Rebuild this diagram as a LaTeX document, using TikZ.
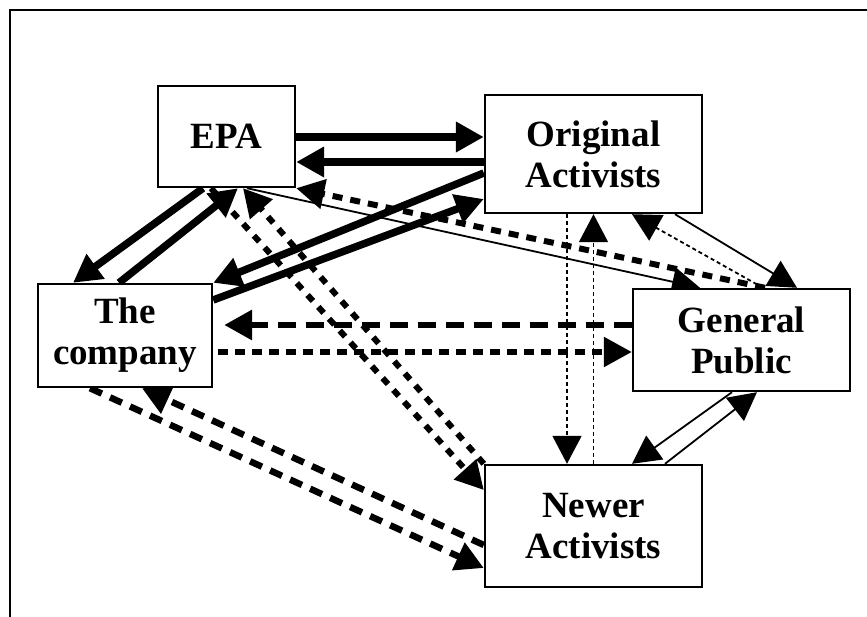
\documentclass[tikz,border=0pt]{standalone}
\usepackage{fontspec}
\setmainfont{Liberation Serif}
\usetikzlibrary{arrows.meta,backgrounds}
\tikzset{
  box/.style={draw,fill=white,line width=2.4pt,inner sep=0pt,align=center,
    font=\bfseries\fontsize{37}{41}\selectfont},
  tip/.style={-{Triangle[length=28pt,width=29pt]}},
  thicksolid/.style={tip,line width=7.5pt},
  thinsolid/.style={tip,line width=1.8pt},
  thindot/.style={tip,line width=1.8pt,dash pattern=on 4pt off 3pt},
  longdash/.style={tip,line width=6.5pt,dash pattern=on 18pt off 10pt},
  meddash/.style={tip,line width=6pt,dash pattern=on 10pt off 8pt},
  shortdash/.style={tip,line width=5.5pt,dash pattern=on 10pt off 7pt},
  diagdash/.style={tip,line width=6pt,dash pattern=on 8pt off 8pt},
  lowdash/.style={tip,line width=6.5pt,dash pattern=on 13pt off 9pt},
}
\begin{document}
\begin{tikzpicture}[x=1pt,y=-1pt]
\useasboundingbox (0,0) rectangle (867,617);
\draw[line width=2.4pt] (867,10) -- (10,10) -- (10,617);

\node[box,minimum width=137pt,minimum height=101pt] (epa) at (226.5,136.5) {EPA};
\node[box,minimum width=217pt,minimum height=118pt] (oa) at (593.5,154) {Original\\Activists};
\node[box,minimum width=174pt,minimum height=103pt] (co) at (125,335.5) {The\\company};
\node[box,minimum width=217pt,minimum height=102pt] (gp) at (741.5,340) {General\\Public};
\node[box,minimum width=217pt,minimum height=122pt] (na) at (593.5,526) {Newer\\Activists};

\begin{scope}[on background layer]
% EPA <-> Original Activists
\draw[thicksolid] ([yshift=-0.5pt]epa.east) -- ([yshift=-0.5pt]epa.east -| oa.west);
\draw[thicksolid] ([yshift=-8pt]oa.west) -- ([yshift=-8pt]oa.west -| epa.east);
% General Public -> EPA, EPA -> General Public
\draw[meddash] ([xshift=23.5pt]gp.north) -- (epa.south east);
\draw[thinsolid] ([xshift=20.5pt]epa.south) -- ([xshift=-41.5pt]gp.north);
% Original Activists <-> company
\draw[thicksolid] ([yshift=-19pt]oa.west) -- (co.north east);
\draw[thicksolid] ([yshift=35.5pt]co.east) -- ([yshift=-45pt]oa.west);
% EPA <-> company
\draw[thicksolid] ([xshift=-23.5pt]epa.south) -- ([xshift=-52pt]co.north);
\draw[thicksolid] ([xshift=-6pt]co.north) -- ([xshift=11.5pt]epa.south);
% EPA <-> Newer Activists
\draw[diagdash] ([xshift=-15.5pt]epa.south) -- ([yshift=36pt]na.west);
\draw[diagdash] (na.north west) -- ([xshift=16.5pt]epa.south);
% General Public <-> company
\draw[longdash,shorten >=11pt] ([yshift=15pt]gp.west) -- ([yshift=15pt]gp.west -| co.east);
\draw[shortdash,shorten <=5pt] ([yshift=-16.5pt]co.east) -- ([yshift=-16.5pt]co.east -| gp.west);
% company <-> Newer Activists
\draw[lowdash] ([xshift=-35pt]co.south) -- ([yshift=-42pt]na.west);
\draw[lowdash] ([yshift=-19pt]na.west) -- ([xshift=17pt]co.south);
% Original <-> Newer Activists
\draw[thindot] ([xshift=-26.5pt]oa.south) -- ([xshift=-26.5pt]na.north);
\draw[thindot] (na.north) -- (oa.south);
% Original Activists <-> General Public
\draw[thinsolid] ([xshift=81.5pt]oa.south) -- ([xshift=55.5pt]gp.north);
\draw[thindot] ([xshift=21.5pt]gp.north) -- ([xshift=38.5pt]oa.south);
% General Public <-> Newer Activists
\draw[thinsolid] ([xshift=-9.5pt]gp.south) -- ([xshift=38.5pt]na.north);
\draw[thinsolid] ([xshift=71.5pt]na.north) -- ([xshift=15.5pt]gp.south);
\end{scope}
\end{tikzpicture}
\end{document}
